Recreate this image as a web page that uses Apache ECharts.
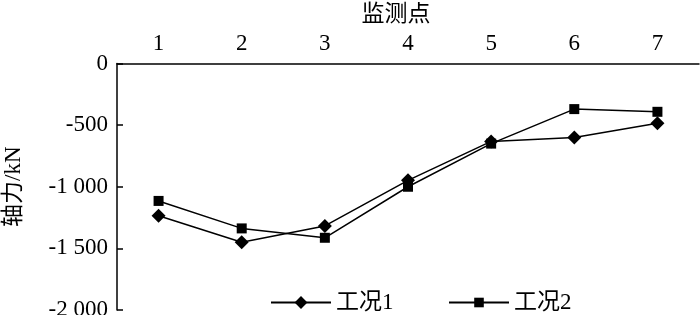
<!DOCTYPE html>
<html><head><meta charset="utf-8">
<script src="https://cdn.jsdelivr.net/npm/echarts@6/dist/echarts.min.js"></script>
<style>html,body{margin:0;padding:0;background:#fff}#c{width:700px;height:315px}</style>
</head><body><div id="c"></div>
<script>
const categories = ['1','2','3','4','5','6','7'];
const case1 = [-1235, -1450, -1318, -948, -632, -600, -485];
const case2 = [-1115, -1338, -1414, -1000, -650, -370, -392];
const seriesNames = ['工况1','工况2'];
const yTicks = [0, -500, -1000, -1500, -2000];

const font = '"Liberation Serif","Times New Roman","Noto Sans CJK SC",serif';
const FS = 23;
const chart = echarts.init(document.getElementById('c'));
function fmt(v){
  const a = Math.abs(v);
  let s = a >= 1000 ? Math.floor(a/1000) + ' ' + String(a%1000).padStart(3,'0') : String(a);
  return (v < 0 ? '-' : '') + s;
}
const legendText = {fontFamily: font, fontSize: FS, color: '#000'};
chart.setOption({
  animation: false,
  textStyle: {fontFamily: font, color: '#000'},
  grid: {left: 117, right: 1, top: 63.5, bottom: 5, containLabel: false, outerBoundsMode: 'none'},
  legend: [
    {left: 265, top: 286, itemWidth: 60, itemHeight: 16, textStyle: legendText, data: [seriesNames[0]]},
    {left: 443, top: 286, itemWidth: 60, itemHeight: 12, textStyle: legendText, data: [seriesNames[1]]}
  ],
  xAxis: {
    type: 'category', position: 'top', data: categories, boundaryGap: true,
    name: '监测点', nameLocation: 'middle', nameGap: 37,
    nameTextStyle: {fontFamily: font, fontSize: FS, color: '#000', padding: [0, 24, 0, 0]},
    axisLine: {lineStyle: {color: '#000', width: 1.5}},
    axisTick: {inside: true, length: 6, lineStyle: {color: '#000', width: 1.5}},
    axisLabel: {fontFamily: font, fontSize: FS, color: '#000', margin: 8}
  },
  yAxis: {
    type: 'value', min: -2000, max: 0, interval: 500,
    name: '轴力/kN', nameLocation: 'middle', nameGap: 92,
    nameTextStyle: {fontFamily: font, fontSize: FS, color: '#000'},
    axisLine: {show: true, lineStyle: {color: '#000', width: 1.5}},
    axisTick: {show: true, inside: true, length: 6, lineStyle: {color: '#000', width: 1.5}},
    splitLine: {show: false},
    axisLabel: {fontFamily: font, fontSize: FS, color: '#000', margin: 9,
      formatter: v => yTicks.includes(v) ? fmt(v) : ''}
  },
  series: [
    {name: seriesNames[0], type: 'line', data: case1, symbol: 'diamond', symbolSize: 14,
     lineStyle: {color: '#000', width: 1.5}, itemStyle: {color: '#000'}},
    {name: seriesNames[1], type: 'line', data: case2, symbol: 'rect', symbolSize: 10,
     lineStyle: {color: '#000', width: 1.5}, itemStyle: {color: '#000'}}
  ]
});
</script></body></html>
